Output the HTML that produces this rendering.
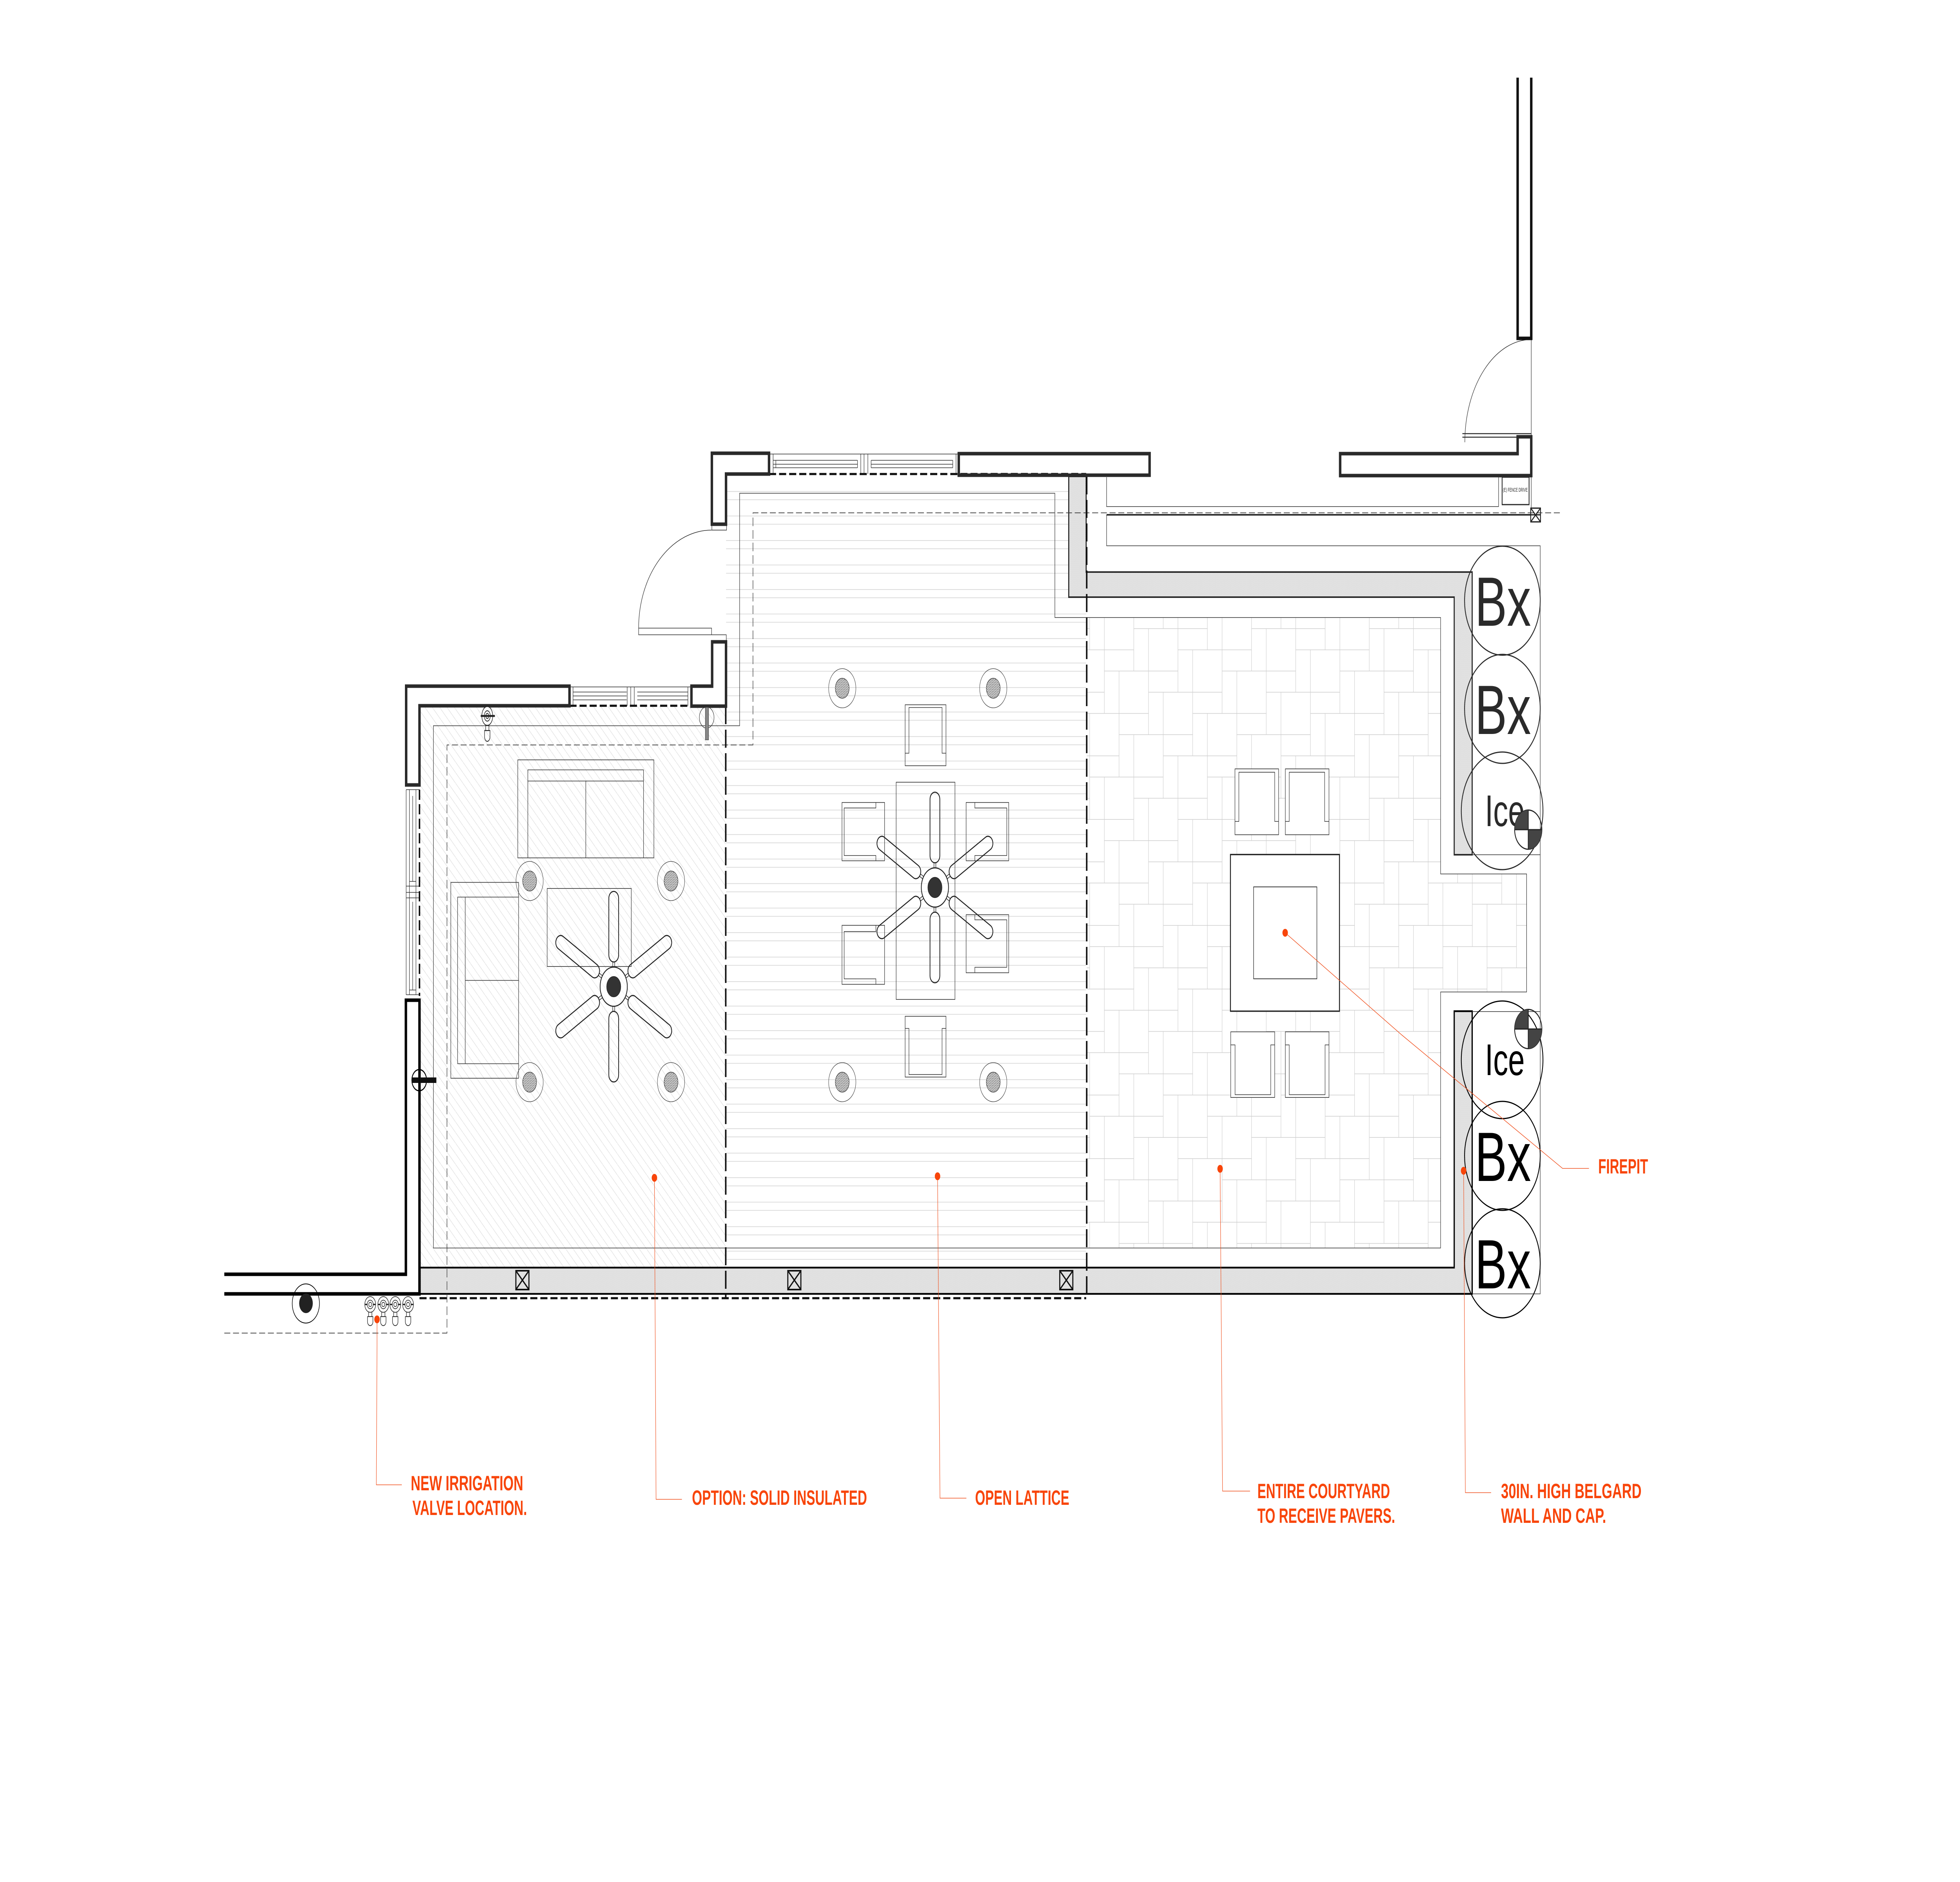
<!DOCTYPE html>
<html>
<head>
<meta charset="utf-8">
<title>Courtyard Plan</title>
<style>
html,body{margin:0;padding:0;background:#fff;width:100%;height:100%;overflow:hidden;}
svg{display:block;position:absolute;left:0;top:0;width:100vw;height:100vh;}
text{font-family:"Liberation Sans",sans-serif;}
.t{fill:none;stroke:#2a2a2a;stroke-width:1.6;}
.w{fill:none;stroke:#222;stroke-width:9;stroke-linejoin:miter;}
.l{fill:none;stroke:#f0501e;stroke-width:1.6;}
.d{fill:#f8450a;}
.lb{fill:#f8450a;font-weight:bold;font-size:53px;}
</style>
</head>
<body>
<svg xmlns="http://www.w3.org/2000/svg" viewBox="0 0 7200 4800" preserveAspectRatio="none">
<defs>
<pattern id="hatch" patternUnits="userSpaceOnUse" width="27" height="27">
<path d="M0 0L27 27" stroke="#e0e0e0" stroke-width="1.6" fill="none"/>
</pattern>
<pattern id="chat" patternUnits="userSpaceOnUse" width="6" height="6">
<rect width="6" height="6" fill="#e4e4e4"/>
<path d="M0 0L6 6" stroke="#555" stroke-width="1.6"/>
</pattern>
<pattern id="wallh" patternUnits="userSpaceOnUse" width="5" height="5">
<rect width="5" height="5" fill="#e6e6e6"/>
<path d="M0 5L5 0" stroke="#d2d2d2" stroke-width="1"/>
</pattern>
<pattern id="pave" patternUnits="userSpaceOnUse" width="8" height="8" patternTransform="translate(4164.9 1603.3) scale(54.07)">
<path fill="none" stroke="#cdcdcd" stroke-width="0.028" d="M0 0H3M0 8H3M0 2H3M1 3H3M0 0V2M1 0V3M3 0V3M1 3H4M1 5H4M2 6H4M1 3V5M2 3V6M4 3V6M2 6H5M2 8H5M2 0H5M3 1H5M2 6V8M3 6V8M3 0V1M5 6V8M5 0V1M3 1H6M3 3H6M4 4H6M3 1V3M4 1V4M6 1V4M4 4H7M4 6H7M5 7H7M4 4V6M5 4V7M7 4V7M5 7H8M5 1H8M6 2H8M6 7V8M6 0V2M8 7V8M8 0V2M0 7V8M6 4H8M0 4H1M7 5H8M0 5H2M6 2V4M7 2V5M1 2V5M7 7H8M0 7H2M0 8H2M7 5V7M0 5V8M8 5V8M2 5V8M0 2H1"/>
</pattern>
<clipPath id="deckclip"><path d="M2667 1215H3926V1524H3990V3233H2667Z"/></clipPath>
<g id="blade">
<rect x="282" y="57" width="36" height="180" rx="18" ry="18" fill="none" stroke="#222" stroke-width="2.8"/>
<path d="M296.5 237V250M303.5 237V250" stroke="#222" stroke-width="1.8" fill="none"/>
</g>
<g id="fan">
<use href="#blade"/><use href="#blade" transform="rotate(60 300 300)"/><use href="#blade" transform="rotate(120 300 300)"/>
<use href="#blade" transform="rotate(180 300 300)"/><use href="#blade" transform="rotate(240 300 300)"/><use href="#blade" transform="rotate(300 300 300)"/>
<circle cx="300" cy="300" r="50" fill="#fff" fill-opacity="0.5" stroke="#222" stroke-width="2.8"/>
<circle cx="300" cy="300" r="26" fill="#333" stroke="#222" stroke-width="1.5"/>
</g>
<g id="col">
<circle cx="60" cy="60" r="50" fill="none" stroke="#333" stroke-width="1.3"/>
<circle cx="60" cy="60" r="25.5" fill="url(#chat)" stroke="#333" stroke-width="1.5"/>
</g>
<g id="valve" fill="none" stroke="#222" stroke-width="1.8">
<circle cx="30" cy="30" r="20" fill="#fff"/>
<circle cx="30" cy="30" r="11"/><circle cx="30" cy="30" r="5.5"/>
<path d="M11 30H20M40 30H49" stroke-width="3.5"/>
<path d="M24 50V61H36V50"/>
<path d="M20 61H40V74A10 10 0 0 1 20 74Z"/>
</g>
<g id="xbox" fill="none" stroke="#111" stroke-width="4">
<rect x="6" y="6" width="48" height="48"/>
<path d="M6 6L54 54M54 6L6 54"/>
</g>
<g id="marker">
<circle cx="60" cy="60" r="50" fill="none" stroke="#222" stroke-width="3"/>
<path d="M60 60V10A50 50 0 0 0 10 60Z" fill="#444"/>
<path d="M60 60H110A50 50 0 0 1 60 110Z" fill="#444"/>
<path d="M10 60H110M60 10V110" stroke="#222" stroke-width="3"/>
</g>
</defs>

<!-- floors -->
<rect x="1541" y="1800" width="1125" height="1433" fill="url(#hatch)"/>
<g clip-path="url(#deckclip)" stroke="#d4d4d4" stroke-width="1.6" fill="none">
<path d="M2667 1253.6H3990M2667 1274.6H3990M2667 1316H3990M2667 1337H3990M2667 1378.6H3990M2667 1399.6H3990M2667 1441H3990M2667 1462H3990M2667 1503.6H3990M2667 1524.6H3990M2667 1566H3990M2667 1587H3990M2667 1628.6H3990M2667 1649.6H3990M2667 1691H3990M2667 1712H3990M2667 1753.6H3990M2667 1774.6H3990M2667 1816H3990M2667 1837H3990M2667 1878.6H3990M2667 1899.6H3990M2667 1941H3990M2667 1962H3990M2667 2003.6H3990M2667 2024.6H3990M2667 2066H3990M2667 2087H3990M2667 2128.6H3990M2667 2149.6H3990M2667 2191H3990M2667 2212H3990M2667 2253.6H3990M2667 2274.6H3990M2667 2316H3990M2667 2337H3990M2667 2378.6H3990M2667 2399.6H3990M2667 2441H3990M2667 2462H3990M2667 2503.6H3990M2667 2524.6H3990M2667 2566H3990M2667 2587H3990M2667 2628.6H3990M2667 2649.6H3990M2667 2691H3990M2667 2712H3990M2667 2753.6H3990M2667 2774.6H3990M2667 2816H3990M2667 2837H3990M2667 2878.6H3990M2667 2899.6H3990M2667 2941H3990M2667 2962H3990M2667 3003.6H3990M2667 3024.6H3990M2667 3066H3990M2667 3087H3990M2667 3128.6H3990M2667 3149.6H3990M2667 3191H3990M2667 3212H3990"/>
</g>
<path d="M3992 1575H5292V2229H5608V2530H5292V3183H3992Z" fill="url(#pave)"/>

<!-- grey capped walls -->
<path d="M3926 1215H3990V1459H5408V2180H5342V1523H3926Z" fill="url(#wallh)" stroke="#2a2a2a" stroke-width="4"/>
<path d="M1541 3233H5342V2579H5408V3300H1541Z" fill="url(#wallh)" stroke="#000" stroke-width="4.5"/>

<!-- thin site outlines -->
<path class="t" d="M1592 1851H2717V1258H3875V1575H5292V2229H5608V2530H5292V3183H1592Z"/>
<path class="t" d="M4065 1217V1292H5505V1217"/>
<path class="t" d="M4065 1313V1392H5658V3300H5408M5408 2180H5658M5408 2580H5658"/>
<path class="t" d="M5625 1213V1296M5625 863V1110"/>

<!-- thin dashed line -->
<path d="M824 3400H1642V1900H2766V1308H5730" fill="none" stroke="#333" stroke-width="1.8" stroke-dasharray="22 10"/>

<!-- doors -->
<path class="t" d="M2346 1602H2614V1619H2346ZM2614 1619H2668V1637"/>
<path class="t" d="M2346 1602A268 250 0 0 1 2614 1352"/>
<rect x="2615" y="1337" width="54" height="15" class="t"/>
<path d="M5372 1106H5625M5372 1115H5575" stroke="#2a2a2a" stroke-width="2.6" fill="none"/>
<path class="t" d="M5381 1128A244 262 0 0 1 5625 866"/>

<!-- windows top -->
<g class="t">
<path d="M2825 1158H3522M2840 1174H3150M2840 1184H3150M2840 1193H3150M3200 1174H3500M3200 1184H3500M3200 1193H3500M2840 1158V1209M2850 1174V1193M3150 1174V1193M3162 1158V1209M3174 1158V1209M3188 1158V1209M3200 1174V1193M3500 1174V1193M3512 1158V1209"/>
<path d="M2092 1752H2540M2105 1765H2302M2105 1775H2302M2105 1785H2302M2105 1752V1800M2304 1752V1800M2317 1752V1800M2330 1752V1800M2341 1765H2527M2341 1775H2527M2341 1785H2527M2527 1752V1800"/>
<path d="M1492 2014H1541M1492 2014V2537M1504 2014V2537M1516 2030V2248M1528 2014V2537M1516 2300V2525M1492 2260H1541M1492 2276H1541M1492 2290H1541M1492 2537H1541M1504 2248H1528M1504 2525H1528"/>
</g>

<!-- thick dashed -->
<g fill="none" stroke="#111" stroke-width="5.5">
<path d="M2092 1800H2540" stroke-dasharray="26 11"/>
<path d="M2825 1209H3990" stroke-dasharray="26 11"/>
<path d="M1541 2014V2540" stroke-dasharray="26 11"/>
<path d="M1541 3311H3990" stroke-dasharray="26 11"/>
<path d="M2666 1801V3311" stroke-dasharray="46 14"/>
<path d="M3992 1215V3311" stroke-dasharray="46 14"/>
</g>

<!-- bold walls -->
<g class="w">
<path d="M1492 1750H2092V1800H1541V2002H1492Z" stroke="#2a2a2a"/>
<path d="M2540 1750H2616V1637H2667V1801H2540Z" stroke="#2a2a2a"/>
<path d="M2615 1156H2825V1209H2667V1337H2615Z" stroke="#2a2a2a"/>
<rect x="3522" y="1157" width="701" height="55" stroke="#2a2a2a"/>
<path d="M5575 1114H5625V1213H4923V1157H5575Z" stroke="#2a2a2a"/>
<path d="M5575 198V863H5625V198" stroke="#111"/>
<path d="M824 3250H1491V2551H1541V3300H824" stroke="#000"/>
</g>
<path d="M4065 1313H5623" stroke="#2a2a2a" stroke-width="4" fill="none"/>

<!-- fence drive -->
<rect x="5518" y="1217" width="99" height="70" fill="#fff" stroke="#2a2a2a" stroke-width="3"/>
<text x="5521" y="1254" font-size="14" fill="#222" textLength="91" lengthAdjust="spacingAndGlyphs">(E) FENCE DRIVE</text>
<g fill="none" stroke="#222" stroke-width="3.2">
<rect x="5623" y="1296" width="36" height="35"/>
<path d="M5623 1296L5659 1331M5659 1296L5623 1331M5623 1313H5659"/>
</g>

<!-- posts -->
<use href="#xbox" x="1889" y="3235"/>
<use href="#xbox" x="2888" y="3235"/>
<use href="#xbox" x="3887" y="3235"/>

<!-- left room furniture -->
<g class="t">
<rect x="1902" y="1938" width="500" height="250"/>
<path d="M1939 2188V1963.5H2364V2188M1939 1992H2364M2152 1992V2188"/>
<rect x="1656" y="2250.5" width="249" height="499.5"/>
<path d="M1905 2288H1681V2713H1905M1709 2288V2713M1709 2500.5H1905"/>
<rect x="2010" y="2266" width="309" height="199"/>
</g>
<use href="#col" x="1885.5" y="2187"/><use href="#col" x="2405" y="2187"/>
<use href="#col" x="1885.5" y="2700"/><use href="#col" x="2405" y="2700"/>
<use href="#fan" x="1954.5" y="2216.5"/>

<!-- deck furniture -->
<g class="t">
<rect x="3292" y="1995" width="216" height="554"/>
<rect x="3325" y="1797.5" width="150" height="155.5"/>
<path d="M3325 1921H3339V1804.5H3460.6V1921H3475"/>
<rect x="3325" y="2592" width="150" height="155"/>
<path d="M3325 2623H3339V2740.6H3460.6V2623H3475"/>
<rect x="3093" y="2046.7" width="156.5" height="148.7"/>
<path d="M3217.6 2046.7V2060.7H3101V2182H3217.6V2195.4"/>
<rect x="3093" y="2360" width="156.5" height="150.5"/>
<path d="M3217.6 2360V2375.8H3101V2496.5H3217.6V2510.5"/>
<rect x="3549" y="2046.7" width="156.5" height="148.7"/>
<path d="M3581 2046.7V2060.7H3698.5V2182H3581V2195.4"/>
<rect x="3549" y="2333" width="156.5" height="148"/>
<path d="M3581 2333V2346H3698.5V2467H3581V2481"/>
</g>
<use href="#col" x="3034" y="1695.4"/><use href="#col" x="3588.7" y="1695.4"/>
<use href="#col" x="3034" y="2700"/><use href="#col" x="3588.7" y="2700"/>
<use href="#fan" x="3134.4" y="1963.5"/>

<!-- firepit + chairs -->
<rect x="4520" y="2179.5" width="400.5" height="399.5" fill="#fff" stroke="#222" stroke-width="3.4"/>
<rect x="4605" y="2262" width="232.6" height="234.4" fill="none" stroke="#222" stroke-width="1.8"/>
<g class="t">
<rect x="4536.6" y="1961" width="160.4" height="168" fill="#fff"/>
<path d="M4536.6 2095H4551V1969.6H4682.6V2095H4697"/>
<rect x="4721.6" y="1961" width="160.4" height="168" fill="#fff"/>
<path d="M4721.6 2095H4736V1969.6H4866V2095H4882"/>
<rect x="4521" y="2631.6" width="161.6" height="167.4" fill="#fff"/>
<path d="M4521 2665H4537V2792H4668V2665H4682.6"/>
<rect x="4721.6" y="2631.6" width="160.4" height="167.4" fill="#fff"/>
<path d="M4721.6 2665H4736V2792H4867.6V2665H4882"/>
</g>

<!-- wall fixtures -->
<use href="#valve" transform="translate(1760 1790) scale(1 1.2)"/>
<rect x="1766" y="1823.5" width="52" height="5" fill="#222"/>
<circle cx="2596" cy="1830" r="27" fill="none" stroke="#333" stroke-width="1.5"/>
<rect x="2591" y="1804" width="12" height="83" fill="#888" stroke="#333" stroke-width="1.2"/>
<circle cx="1540" cy="2755" r="27" fill="none" stroke="#000" stroke-width="3"/>
<rect x="1512" y="2748" width="91" height="14" fill="#111"/>
<path d="M1540 2725V2785" stroke="#000" stroke-width="3"/>

<!-- drain + valves -->
<circle cx="1123.5" cy="3324.5" r="50" fill="none" stroke="#000" stroke-width="2"/>
<circle cx="1124" cy="3324" r="25" fill="#222"/>
<use href="#valve" x="1330" y="3297"/>
<use href="#valve" x="1378" y="3297"/>
<use href="#valve" x="1422" y="3297"/>
<use href="#valve" x="1469" y="3297"/>

<!-- planters -->
<g fill="none" stroke="#2a2a2a" stroke-width="3">
<circle cx="5519" cy="1532" r="139"/>
<circle cx="5519" cy="1808" r="139"/>
<circle cx="5518" cy="2068" r="150"/>
</g>
<g fill="none" stroke="#000" stroke-width="3">
<circle cx="5518" cy="2703" r="150"/>
<circle cx="5519" cy="2948" r="139"/>
<circle cx="5519" cy="3222" r="139"/>
</g>
<text x="5418" y="1596" font-size="178" fill="#2a2a2a" textLength="206" lengthAdjust="spacingAndGlyphs">Bx</text>
<text x="5418" y="1872" font-size="178" fill="#2a2a2a" textLength="206" lengthAdjust="spacingAndGlyphs">Bx</text>
<text x="5455" y="2107" font-size="113" fill="#2a2a2a" textLength="146" lengthAdjust="spacingAndGlyphs">Ice</text>
<text x="5455" y="2742" font-size="113" fill="#000" textLength="146" lengthAdjust="spacingAndGlyphs">Ice</text>
<text x="5418" y="3012" font-size="178" fill="#000" textLength="206" lengthAdjust="spacingAndGlyphs">Bx</text>
<text x="5418" y="3286" font-size="178" fill="#000" textLength="206" lengthAdjust="spacingAndGlyphs">Bx</text>
<use href="#marker" x="5554" y="2056"/>
<use href="#marker" x="5554" y="2564.5"/>

<!-- leaders -->
<path class="l" d="M1385 3365V3430L1382.5 3787H1476"/>
<path class="l" d="M2404 3004L2410 3824H2505"/>
<path class="l" d="M3444 3000L3453 3821H3550"/>
<path class="l" d="M4482 2981L4491 3803H4592"/>
<path class="l" d="M5376.5 2986L5383 3807H5477.5"/>
<path class="l" d="M4721 2379L5150 2640L5740 2980H5837"/>
<circle class="d" cx="1385" cy="3365" r="10"/>
<circle class="d" cx="2404" cy="3004" r="10"/>
<circle class="d" cx="3444" cy="3000" r="10"/>
<circle class="d" cx="4482" cy="2981" r="10"/>
<circle class="d" cx="5376.5" cy="2986" r="10"/>
<circle class="d" cx="4721" cy="2379" r="10"/>

<!-- labels -->
<text class="lb" x="1509" y="3801" textLength="413" lengthAdjust="spacingAndGlyphs">NEW IRRIGATION</text>
<text class="lb" x="1515" y="3864" textLength="421" lengthAdjust="spacingAndGlyphs">VALVE LOCATION.</text>
<text class="lb" x="2542" y="3838" textLength="643" lengthAdjust="spacingAndGlyphs">OPTION: SOLID INSULATED</text>
<text class="lb" x="3582" y="3838" textLength="346" lengthAdjust="spacingAndGlyphs">OPEN LATTICE</text>
<text class="lb" x="4619" y="3821" textLength="487" lengthAdjust="spacingAndGlyphs">ENTIRE COURTYARD</text>
<text class="lb" x="4619" y="3884" textLength="506" lengthAdjust="spacingAndGlyphs">TO RECEIVE PAVERS.</text>
<text class="lb" x="5514" y="3821" textLength="516" lengthAdjust="spacingAndGlyphs">30IN. HIGH BELGARD</text>
<text class="lb" x="5514" y="3884" textLength="386" lengthAdjust="spacingAndGlyphs">WALL AND CAP.</text>
<text class="lb" x="5871" y="2993" textLength="183" lengthAdjust="spacingAndGlyphs">FIREPIT</text>
</svg>
</body>
</html>
